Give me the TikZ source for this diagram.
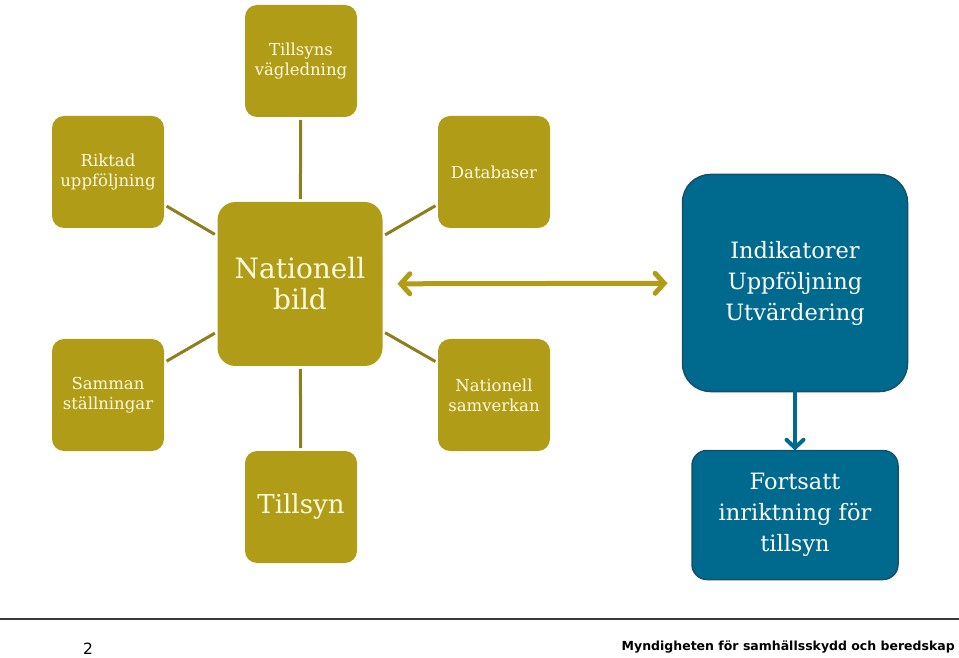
\documentclass[tikz,border=0pt]{standalone}
\usepackage{fontspec}
\setmainfont{DejaVu Serif}
\newfontfamily\footfont{DejaVu Sans}
\usetikzlibrary{arrows.meta}

\definecolor{msbgold}{HTML}{B09C17}
\definecolor{msbspoke}{HTML}{8E7E1C}
\definecolor{msbcream}{HTML}{FFF9E0}
\definecolor{msbblue}{HTML}{006A8E}
\definecolor{msbborder}{HTML}{15506A}
\definecolor{msbrule}{HTML}{3A3A3A}

\tikzset{
    satbox/.style={rounded corners=12pt, fill=msbgold, text=msbcream,
        minimum width=112pt, minimum height=112pt, inner sep=2pt, outer sep=0pt,
        align=center, font=\fontsize{16.5}{20}\selectfont},
    hubbox/.style={satbox, rounded corners=18pt,
        minimum width=165pt, minimum height=164pt,
        font=\fontsize{28}{31}\selectfont},
    bluebox/.style={rounded corners=28pt, fill=msbblue, draw=msbborder, line width=1.5pt,
        text=white, align=center, inner sep=2pt, outer sep=0pt,
        font=\fontsize{22.5}{31}\selectfont},
    spoke/.style={msbspoke, line width=3pt, shorten <=3pt, shorten >=3pt}
}

\begin{document}
\begin{tikzpicture}[x=1pt, y=1pt]
    \useasboundingbox (0,0) rectangle (959,657);

    % central picture and its satellites
    \node[hubbox] (nb) at (300,373) {Nationell\\bild};
    \node[satbox] (tv) at (301,596) {Tillsyns\\vägledning};
    \node[satbox] (ru) at (108,485) {Riktad\\uppföljning};
    \node[satbox] (db) at (494,485) {Databaser};
    \node[satbox] (ss) at (108,262) {Samman\\ställningar};
    \node[satbox] (ns) at (494,262) {Nationell\\samverkan};
    \node[satbox, font=\fontsize{26}{30}\selectfont] (ts) at (301,150) {Tillsyn};

    \foreach \sat in {tv,ru,db,ss,ns,ts}
        \draw[spoke] (nb) -- (\sat);

    % right-hand column
    \node[bluebox, minimum width=225pt, minimum height=217pt] (ind) at (795,374)
        {Indikatorer\\Uppföljning\\Utvärdering};
    \node[bluebox, rounded corners=15pt, minimum width=206pt, minimum height=129pt] (fi) at (795,142)
        {Fortsatt\\inriktning för\\tillsyn};

    \draw[msbgold, line width=5pt, shorten <=15pt, shorten >=15pt,
        {Straight Barb[length=9pt, width=20pt, line cap=round]}-{Straight Barb[length=9pt, width=20pt, line cap=round]}]
        (nb) -- (ind);
    \draw[msbblue, line width=4pt, -{Straight Barb[length=8pt, width=17pt, line cap=round]}]
        (ind) -- (fi);

    % footer
    \draw[msbrule, line width=1.5pt] (0,38) -- (959,38);
    \node[font=\footfont\fontsize{15.5}{17}\selectfont, inner sep=0pt] (pg) at (88,8) {2};
    \node[font=\footfont\bfseries\fontsize{12.5}{15}\selectfont, anchor=east, inner sep=0pt] (org) at (955,10)
        {Myndigheten för samhällsskydd och beredskap};
\end{tikzpicture}
\end{document}
